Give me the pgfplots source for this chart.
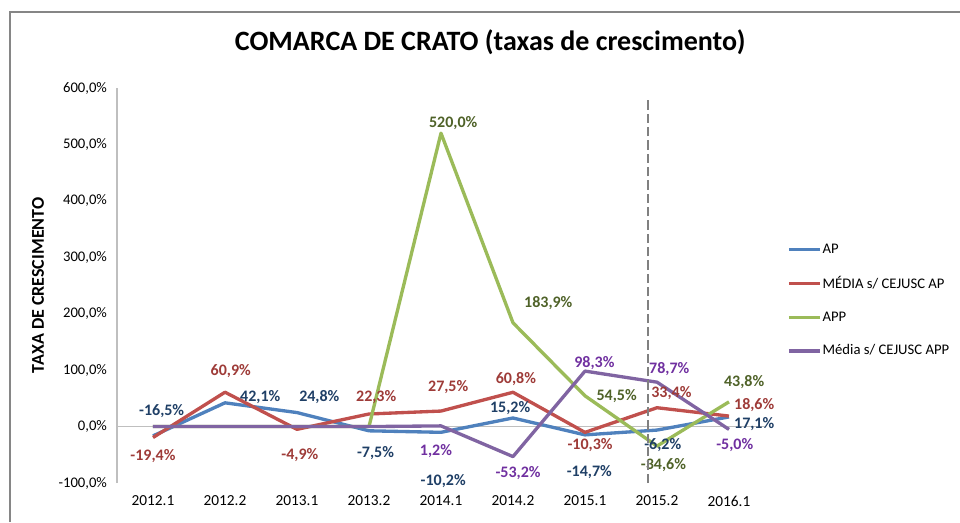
\documentclass[border=0pt]{standalone}
\usepackage{fontspec}
\setmainfont{Carlito}
\usepackage{pgfplots}
\pgfplotsset{compat=1.18}

\definecolor{apblue}{HTML}{4F81BD}
\definecolor{apred}{HTML}{C0504D}
\definecolor{appgreen}{HTML}{9BBB59}
\definecolor{apppurple}{HTML}{8064A2}
\definecolor{lblblue}{HTML}{1F3F66}
\definecolor{lblred}{HTML}{9E3B38}
\definecolor{lblgreen}{HTML}{4F6228}
\definecolor{lblpurple}{HTML}{7030A0}
\definecolor{framegray}{HTML}{868686}

\begin{document}
\begin{tikzpicture}[lbl/.style={font=\fontsize{12}{14}\selectfont\bfseries, inner sep=0pt}]
\useasboundingbox (0,0) rectangle (720pt,391.5pt);
\draw[framegray, line width=1.1pt] (7.5pt,0) -- (7.5pt,382.5pt) -- (720pt,382.5pt);
\begin{axis}[
  at={(87.75pt,29.25pt)}, anchor=south west,
  scale only axis, width=486pt, height=296.25pt,
  xmin=-0.5, xmax=8.5, ymin=-100, ymax=600,
  axis x line=bottom, axis y line=left,
  x axis line style={draw=none},
  y axis line style={-, draw=black!25, line width=0.8pt},
  xtick={0,...,8},
  xticklabels={2012.1,2012.2,2013.1,2013.2,2014.1,2014.2,2015.1,2015.2,2016.1},
  ytick={-100,0,100,200,300,400,500,600},
  yticklabels={{-100,0\%},{0,0\%},{100,0\%},{200,0\%},{300,0\%},{400,0\%},{500,0\%},{600,0\%}},
  tick style={draw=none}, major tick length=0pt,
  tick label style={font=\fontsize{11}{13}\selectfont},
  xticklabel style={yshift=-6pt, font=\fontsize{11.5}{13}\selectfont},
  yticklabel style={xshift=-4pt},
  ylabel={TAXA DE CRESCIMENTO},
  ylabel style={font=\fontsize{13.5}{15}\selectfont\bfseries, at={(axis description cs:-0.122,0.5)}, anchor=center},
  title={COMARCA DE CRATO (taxas de crescimento)},
  title style={at={(axis description cs:0.576,1.096)}, anchor=center, font=\fontsize{21}{25}\selectfont\bfseries},
  legend style={at={(axis description cs:1.034,0.62)}, anchor=north west, draw=none, fill=none,
    font=\fontsize{11}{13}\selectfont, row sep=12pt, inner xsep=0pt,
    nodes={inner xsep=1pt}},
  legend cell align=left,
  legend image code/.code={\draw[#1] (0pt,0pt) -- (23pt,0pt);},
  every axis plot/.append style={line width=2.5pt, line join=round, no markers},
  clip=false,
]
\draw[black!25, line width=0.8pt] (axis cs:-0.5,0) -- (axis cs:8.5,0);

\addplot[apblue] coordinates {
  (0,-16.5) (1,42.1) (2,24.8) (3,-7.5) (4,-10.2) (5,15.2) (6,-14.7) (7,-6.2) (8,17.1)
};
\addlegendentry{AP}
\addplot[apred] coordinates {
  (0,-19.4) (1,60.9) (2,-4.9) (3,22.3) (4,27.5) (5,60.8) (6,-10.3) (7,33.4) (8,18.6)
};
\addlegendentry{MÉDIA s/ CEJUSC AP}
\addplot[appgreen] coordinates {
  (0,0) (1,0) (2,0) (3,0) (4,520.0) (5,183.9) (6,54.5) (7,-34.6) (8,43.8)
};
\addlegendentry{APP}
\addplot[apppurple] coordinates {
  (0,0) (1,0) (2,0) (3,0) (4,1.2) (5,-53.2) (6,98.3) (7,78.7) (8,-5.0)
};
\addlegendentry{Média s/ CEJUSC APP}

% data labels
\node[lbl, text=lblblue] at (axis cs:0.12,28.3) {-16,5\%};
\node[lbl, text=lblblue] at (axis cs:1.49,51.9) {42,1\%};
\node[lbl, text=lblblue] at (axis cs:2.31,51.9) {24,8\%};
\node[lbl, text=lblblue] at (axis cs:3.09,-47.8) {-7,5\%};
\node[lbl, text=lblblue] at (axis cs:4.03,-96.8) {-10,2\%};
\node[lbl, text=lblblue] at (axis cs:4.96,33.0) {15,2\%};
\node[lbl, text=lblblue] at (axis cs:6.06,-80.8) {-14,7\%};
\node[lbl, text=lblblue] at (axis cs:7.08,-31.9) {-6,2\%};
\node[lbl, text=lblblue] at (axis cs:8.35,5.3) {17,1\%};

\node[lbl, text=lblred] at (axis cs:0.0,-52.5) {-19,4\%};
\node[lbl, text=lblred] at (axis cs:1.08,97.9) {60,9\%};
\node[lbl, text=lblred] at (axis cs:2.04,-50.7) {-4,9\%};
\node[lbl, text=lblred] at (axis cs:3.1,51.9) {22,3\%};
\node[lbl, text=lblred] at (axis cs:4.1,70.2) {27,5\%};
\node[lbl, text=lblred] at (axis cs:5.04,84.4) {60,8\%};
\node[lbl, text=lblred] at (axis cs:6.07,-33.6) {-10,3\%};
\node[lbl, text=lblred] at (axis cs:7.2,59.6) {33,4\%};
\node[lbl, text=lblred] at (axis cs:8.35,38.9) {18,6\%};

\node[lbl, text=lblgreen] at (axis cs:4.17,538) {520,0\%};
\node[lbl, text=lblgreen] at (axis cs:5.49,219.5) {183,9\%};
\node[lbl, text=lblgreen] at (axis cs:6.44,53.7) {54,5\%};
\node[lbl, text=lblgreen] at (axis cs:7.09,-69) {-34,6\%};
\node[lbl, text=lblgreen] at (axis cs:8.21,78.4) {43,8\%};

\node[lbl, text=lblpurple] at (axis cs:3.93,-43.7) {1,2\%};
\node[lbl, text=lblpurple] at (axis cs:5.07,-82) {-53,2\%};
\node[lbl, text=lblpurple] at (axis cs:6.13,112.7) {98,3\%};
\node[lbl, text=lblpurple] at (axis cs:7.17,102.6) {78,7\%};
\node[lbl, text=lblpurple] at (axis cs:8.08,-33.6) {-5,0\%};

% dashed separator
\draw[black!50, line width=2.2pt, dash pattern=on 7pt off 3pt] (axis cs:6.875,-100) -- (axis cs:6.875,582);
\end{axis}
\end{tikzpicture}
\end{document}
